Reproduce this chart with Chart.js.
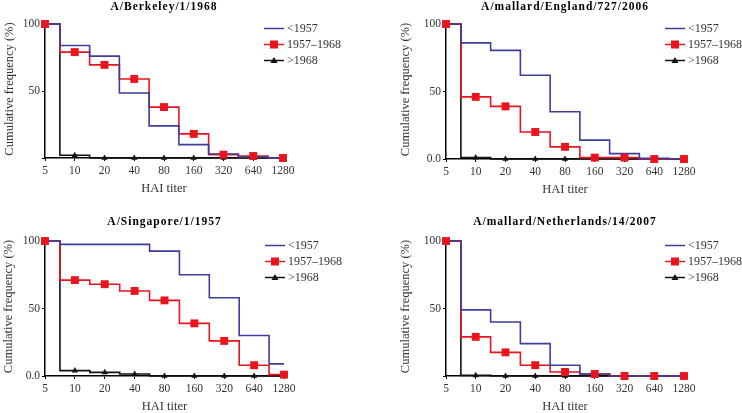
<!DOCTYPE html>
<html>
<head>
<meta charset="utf-8">
<script src="https://cdn.jsdelivr.net/npm/chart.js@4.4.0/dist/chart.umd.min.js"></script>
<style>
  body { margin: 0; background: #fff; width: 742px; height: 413px; overflow: hidden; position: relative; }
  canvas { position: absolute; }
</style>
</head>
<body>
<canvas id="c1" width="371" height="200" style="left:0;top:0"></canvas>
<canvas id="c2" width="371" height="200" style="left:371px;top:0"></canvas>
<canvas id="c3" width="371" height="213" style="left:0;top:200px"></canvas>
<canvas id="c4" width="371" height="213" style="left:371px;top:200px"></canvas>
<script>
// Dados
const titers = ['5', '10', '20', '40', '80', '160', '320', '640', '1280'];
const seriesNames = ['<1957', '1957\u20131968', '>1968'];

const berkeleyPre = [100, 84, 76, 48.5, 24, 10, 3, 0.7, 0];
const berkeleyMid = [100, 79, 69.5, 59, 38, 18, 2.5, 1.5, 0];
const berkeleyPost = [100, 2, 0, 0, 0, 0, 0, 0, 0];

const englandPre = [100, 86, 80.5, 62, 35, 14, 4, 0.5, 0];
const englandMid = [100, 46, 39, 20, 9, 1, 1, 0, 0];
const englandPost = [100, 1, 0, 0, 0, 0, 0, 0, 0];

const singaporePre = [100, 97.5, 97.5, 97.5, 92.5, 75, 58, 30, 9];
const singaporeMid = [100, 71, 68, 63, 56, 39, 26, 8, 1];
const singaporePost = [100, 4, 2.7, 1.5, 0, 0, 0, 0, 0];

const netherlandsPre = [100, 49, 40, 24, 8, 1.5, 0, 0, 0];
const netherlandsMid = [100, 29, 17.5, 8, 3, 1.5, 0, 0, 0];
const netherlandsPost = [100, 0.5, 0, 0, 0, 0, 0, 0, 0];

const azul = '#3d3d9e';
const vermelho = '#e8141e';
const preto = '#111111';
const serif = '"Liberation Serif", "DejaVu Serif", serif';

const legendaItens = [
    { cor: azul, marca: null },
    { cor: vermelho, marca: 'rect' },
    { cor: preto, marca: 'triangle' }
];

// titulo, eixos e legenda desenhados por cima
const decorPlugin = {
    id: 'decor',
    afterDraw(chart) {
        const cfg = chart.options.plugins.decor;
        const ctx = chart.ctx;
        const a = chart.chartArea;
        const cx = (a.left + a.right) / 2;
        ctx.save();
        ctx.textAlign = 'center';
        ctx.textBaseline = 'middle';

        ctx.fillStyle = '#000';
        ctx.font = 'bold 11.5px ' + serif;
        ctx.letterSpacing = '1px';
        ctx.fillText(cfg.title, cx, cfg.titleY);
        ctx.letterSpacing = '0px';

        ctx.fillStyle = '#333';
        ctx.font = '12.5px ' + serif;
        ctx.fillText('HAI titer', cx, a.bottom + 31);

        ctx.save();
        ctx.translate(cfg.yTitleX, (a.top + a.bottom) / 2 - 2);
        ctx.rotate(-Math.PI / 2);
        ctx.fillText('Cumulative frequency (%)', 0, 0);
        ctx.restore();

        // legenda
        ctx.font = '12px ' + serif;
        ctx.textAlign = 'left';
        legendaItens.forEach((item, i) => {
            const y = a.top + 4.5 + i * 16;
            const x0 = a.right - 19;
            const x1 = a.right + 1;
            ctx.strokeStyle = item.cor;
            ctx.lineWidth = 1.5;
            ctx.beginPath();
            ctx.moveTo(x0, y);
            ctx.lineTo(x1, y);
            ctx.stroke();
            const mx = (x0 + x1) / 2;
            ctx.fillStyle = item.cor;
            if (item.marca === 'rect') {
                ctx.fillRect(mx - 4, y - 4, 8, 8);
            } else if (item.marca === 'triangle') {
                ctx.beginPath();
                ctx.moveTo(mx, y - 3.5);
                ctx.lineTo(mx + 3.5, y + 2.5);
                ctx.lineTo(mx - 3.5, y + 2.5);
                ctx.closePath();
                ctx.fill();
            }
            ctx.fillStyle = '#333';
            ctx.fillText(seriesNames[i], x1 + 3, y + 0.5);
        });
        ctx.restore();
    }
};

function criarGrafico(id, titulo, pre, mid, post, area, titleY, yTitleX, zeroLabel) {
    const canvas = document.getElementById(id);
    const W = canvas.width;
    const H = canvas.height;
    const tickFont = { family: serif, size: 11.5 };

    new Chart(canvas, {
        type: 'line',
        data: {
            labels: titers,
            datasets: [
                {
                    // marcadores vermelhos por cima de tudo
                    label: seriesNames[1] + ' pts',
                    data: mid,
                    showLine: false,
                    borderColor: vermelho,
                    backgroundColor: vermelho,
                    pointStyle: 'rect',
                    pointRadius: 5.6,
                    pointBorderWidth: 0,
                    clip: false,
                    order: 0
                },
                {
                    label: seriesNames[0],
                    data: pre,
                    borderColor: azul,
                    backgroundColor: azul,
                    borderWidth: 1.6,
                    pointRadius: 0,
                    stepped: 'middle',
                    clip: false,
                    order: 1
                },
                {
                    label: seriesNames[1],
                    data: mid,
                    borderColor: vermelho,
                    backgroundColor: vermelho,
                    borderWidth: 1.6,
                    pointRadius: 0,
                    stepped: 'middle',
                    clip: false,
                    order: 2
                },
                {
                    label: seriesNames[2],
                    data: post,
                    borderColor: preto,
                    backgroundColor: preto,
                    borderWidth: 1.6,
                    pointStyle: 'triangle',
                    pointRadius: 3.6,
                    pointBorderWidth: 0,
                    stepped: 'middle',
                    clip: false,
                    order: 3
                }
            ]
        },
        options: {
            responsive: false,
            animation: false,
            devicePixelRatio: 1,
            layout: {
                padding: { left: 0, top: area.top, right: W - area.right, bottom: 0 }
            },
            plugins: {
                legend: { display: false },
                tooltip: { enabled: false },
                decor: { title: titulo, titleY: titleY, yTitleX: yTitleX }
            },
            scales: {
                x: {
                    type: 'category',
                    offset: false,
                    ticks: { autoSkip: false, maxRotation: 0, padding: 3, color: '#333', font: tickFont },
                    grid: { drawOnChartArea: false, tickLength: 3, color: '#000', lineWidth: 1 },
                    border: { color: '#000', width: 1.5 },
                    afterFit(s) { s.height = H - area.bottom; }
                },
                y: {
                    min: 0,
                    max: 100,
                    ticks: {
                        stepSize: 50,
                        padding: 2,
                        color: '#333',
                        font: tickFont,
                        callback: v => (v === 0 ? zeroLabel : String(v))
                    },
                    grid: { drawOnChartArea: false, tickLength: 3, color: '#000', lineWidth: 1 },
                    border: { color: '#000', width: 1.5 },
                    afterFit(s) { s.width = area.left; }
                }
            }
        },
        plugins: [decorPlugin]
    });
}

criarGrafico('c1', 'A/Berkeley/1/1968', berkeleyPre, berkeleyMid, berkeleyPost,
    { left: 45, right: 283, top: 24, bottom: 158 }, 7, 10, '');
criarGrafico('c2', 'A/mallard/England/727/2006', englandPre, englandMid, englandPost,
    { left: 75, right: 313, top: 24, bottom: 159 }, 7, 35, '0.0');
criarGrafico('c3', 'A/Singapore/1/1957', singaporePre, singaporeMid, singaporePost,
    { left: 45, right: 284, top: 41, bottom: 176 }, 22, 9, '0.0');
criarGrafico('c4', 'A/mallard/Netherlands/14/2007', netherlandsPre, netherlandsMid, netherlandsPost,
    { left: 75, right: 313, top: 41, bottom: 176 }, 22, 35, '');
</script>
</body>
</html>
